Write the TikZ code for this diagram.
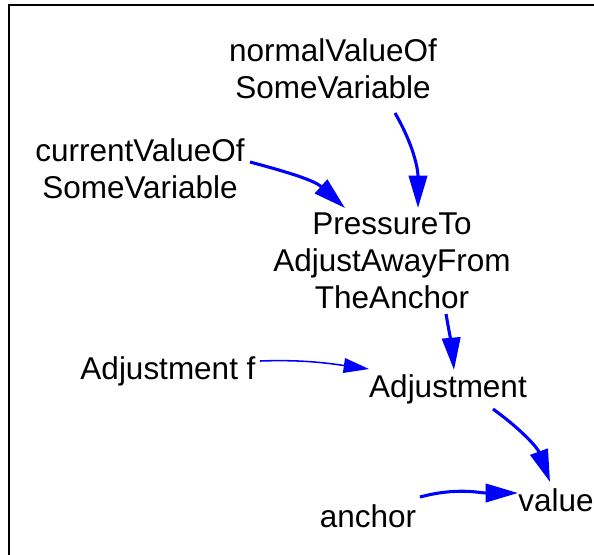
\documentclass[tikz,border=0pt]{standalone}
\usepackage{fontspec}
\setmainfont{Liberation Sans}
\usetikzlibrary{arrows.meta,calc}

\begin{document}
\begin{tikzpicture}[
  vr/.style={align=center,font=\fontsize{22.4}{26.3}\selectfont,inner sep=0pt},
  ar/.style={-{Triangle[length=23pt,width=13pt]},blue,line width=2.2pt},
  tn/.style={-{Triangle[length=18pt,width=10.5pt]},blue,line width=1.1pt}]
\useasboundingbox (0,0) rectangle (14.85,-13.85);
\draw[line width=1.1pt] (0.225,-13.95) -- (0.225,-0.125) -- (14.95,-0.125);
\node[vr] (nrm) at (8.325,-1.725) {normalValueOf\\SomeVariable};
\node[vr] (cur) at (3.5,-4.225) {currentValueOf\\SomeVariable};
\node[vr] (prs) at (9.8,-6.525) {PressureTo\\AdjustAwayFrom\\TheAnchor};
\node[vr] (adf) at (4.2,-9.275) {Adjustment f};
\node[vr] (adj) at (11.2,-9.725) {Adjustment};
\node[vr] (anc) at (9.2,-12.9) {anchor};
\node[vr] (val) at (13.9,-12.5) {value};
\draw[ar] ($(nrm)+(1.55,-1.1)$) to[out=-60,in=90] ($(prs)+(0.65,1.325)$);
\draw[ar] ($(cur)+(2.75,0.175)$) to[out=-15,in=138] ($(prs)+(-1.175,1.325)$);
\draw[ar] ($(prs)+(1.35,-1.325)$) to[out=-80,in=95] ($(adj)+(0.15,0.475)$);
\draw[tn] ($(adf)+(2.3,0.25)$) to[out=2,in=172] ($(adj)+(-1.975,0.5)$);
\draw[ar] ($(adj)+(1.125,-0.5)$) to[out=-36,in=110] ($(val)+(-0.15,0.45)$);
\draw[ar] ($(anc)+(1.3,0.475)$) to[out=15,in=180] ($(val)+(-0.95,0.175)$);
\end{tikzpicture}
\end{document}
